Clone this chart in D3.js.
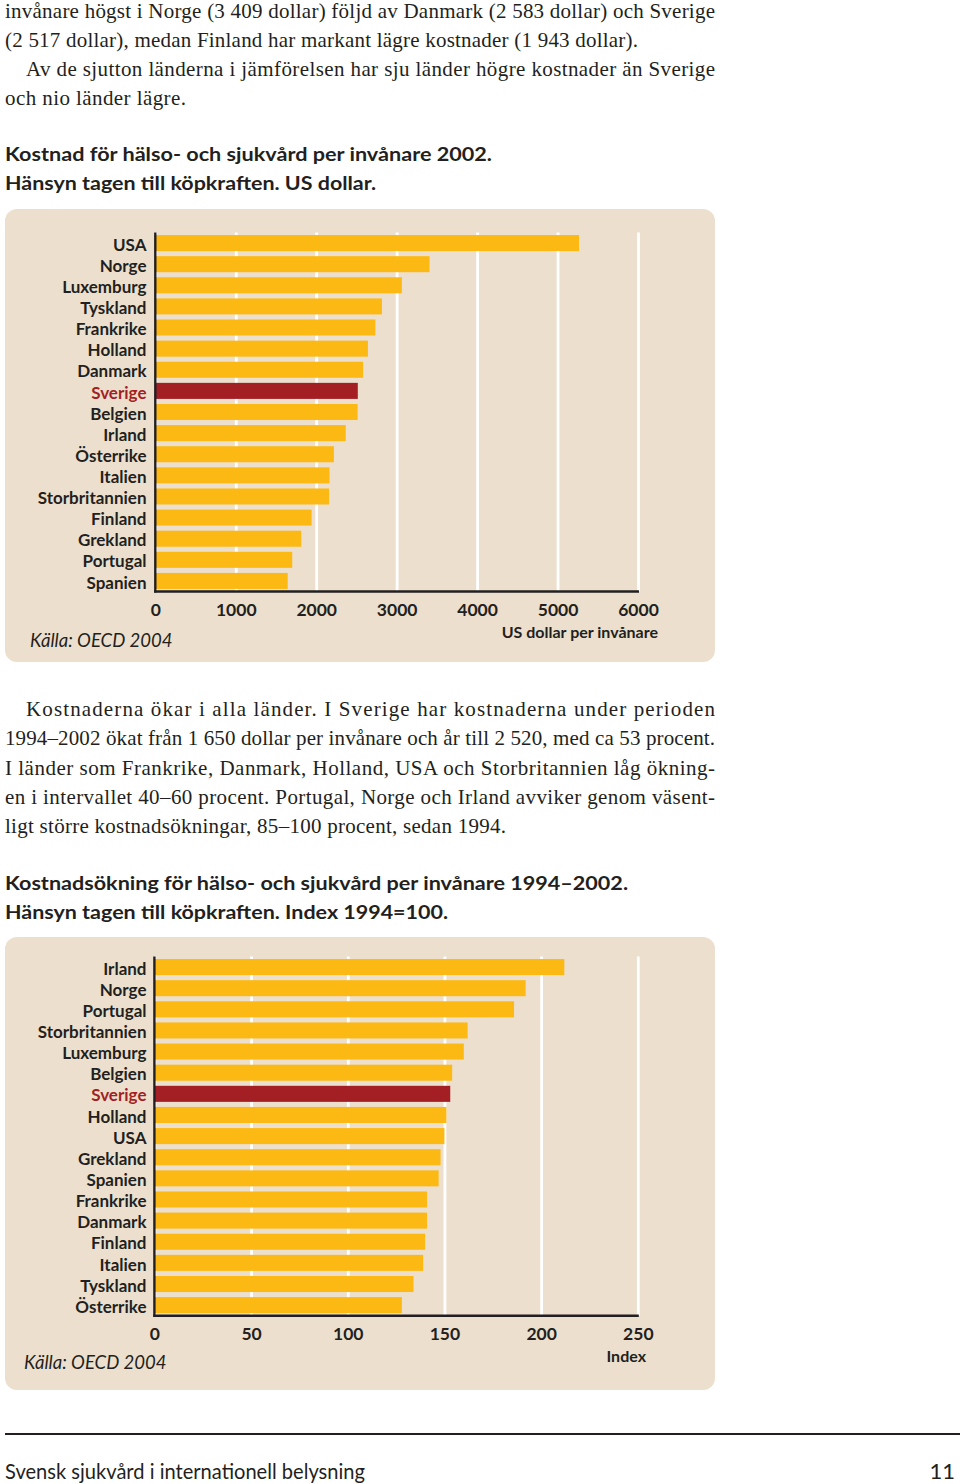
<!DOCTYPE html>
<html><head><meta charset="utf-8">
<script src="https://cdn.jsdelivr.net/npm/d3@7"></script>
<style>body{margin:0;background:#fff}svg{display:block}</style>
</head><body>
<script>
// ---- data ----
const countries1 = ["USA","Norge","Luxemburg","Tyskland","Frankrike","Holland","Danmark","Sverige","Belgien","Irland","Österrike","Italien","Storbritannien","Finland","Grekland","Portugal","Spanien"];
const values1 = [5267,3409,3065,2817,2736,2643,2583,2517,2515,2367,2220,2166,2160,1943,1814,1702,1646];
const ticks1 = [0,1000,2000,3000,4000,5000,6000];

const countries2 = ["Irland","Norge","Portugal","Storbritannien","Luxemburg","Belgien","Sverige","Holland","USA","Grekland","Spanien","Frankrike","Danmark","Finland","Italien","Tyskland","Österrike"];
const values2 = [212,192,186,162,160,154,153,151,150,148,147,141,141,140,139,134,128];
const ticks2 = [0,50,100,150,200,250];

const highlight = "Sverige";

// ---- styles ----
const INK = "#231f20", BOX = "#ecdfce", BAR = "#fdb913", RED = "#a31f24";
const SERIF = "'Liberation Serif','DejaVu Serif',serif";
const SANS = "Lato,'Open Sans','Noto Sans',sans-serif";

const svg = d3.select("body").append("svg").attr("width",960).attr("height",1484);

function txt(str, x, y, o = {}) {
  const t = svg.append("text").attr("x", x).attr("y", y).text(str)
    .attr("fill", o.fill || INK)
    .attr("font-family", o.family || SERIF)
    .attr("font-size", o.size || 21)
    .attr("font-weight", o.weight || "normal")
    .attr("font-style", o.style || "normal")
    .attr("text-anchor", o.anchor || "start");
  if (o.len) t.attr("textLength", o.len).attr("lengthAdjust", o.adj || "spacing");
  return t;
}

// ---- body text, paragraph 1 ----
const R = 715;
txt("invånare högst i Norge (3 409 dollar) följd av Danmark (2 583 dollar) och Sverige", 5, 17.5, {len: R-5});
txt("(2 517 dollar), medan Finland har markant lägre kostnader (1 943 dollar).", 5, 46.5, {len: 633});
txt("Av de sjutton länderna i jämförelsen har sju länder högre kostnader än Sverige", 26, 75.8, {len: R-26});
txt("och nio länder lägre.", 5, 105, {len: 181});

const HS = {family: SANS, weight: "bold", size: 19, adj: "spacingAndGlyphs"};
txt("Kostnad för hälso- och sjukvård per invånare 2002.", 5, 161, {...HS, len: 487});
txt("Hänsyn tagen till köpkraften. US dollar.", 5, 190, {...HS, len: 371});

// ---- paragraph 2 ----
txt("Kostnaderna ökar i alla länder. I Sverige har kostnaderna under perioden", 26, 716, {len: R-26});
txt("1994–2002 ökat från 1 650 dollar per invånare och år till 2 520, med ca 53 procent.", 5, 745.3, {len: R-5});
txt("I länder som Frankrike, Danmark, Holland, USA och Storbritannien låg ökning-", 5, 774.6, {len: R-5});
txt("en i intervallet 40–60 procent. Portugal, Norge och Irland avviker genom väsent-", 5, 803.9, {len: R-5});
txt("ligt större kostnadsökningar, 85–100 procent, sedan 1994.", 5, 833.2, {len: 501});

txt("Kostnadsökning för hälso- och sjukvård per invånare 1994–2002.", 5, 889.5, {...HS, len: 623});
txt("Hänsyn tagen till köpkraften. Index 1994=100.", 5, 918.5, {...HS, len: 443});

// ---- charts ----
function chart(cfg) {
  const g = svg.append("g");
  g.append("rect").attr("x", 5).attr("y", cfg.boxY).attr("width", 710).attr("height", cfg.boxH)
    .attr("rx", 12).attr("fill", BOX);

  const x = d3.scaleLinear().domain([0, cfg.ticks[cfg.ticks.length-1]]).range(cfg.xRange);
  const y = d3.scaleBand().domain(cfg.cats).range([cfg.top, cfg.base]).paddingInner(0.24).paddingOuter(0.12);

  // gridlines + tick labels
  const ax = g.append("g").attr("transform", `translate(0,${cfg.base})`)
    .call(d3.axisBottom(x).tickValues(cfg.ticks).tickSize(-(cfg.base - cfg.top)).tickPadding(0).tickFormat(d3.format("d")));
  ax.select(".domain").remove();
  ax.selectAll(".tick line").attr("stroke", "#fff").attr("stroke-width", 2.8);
  ax.selectAll(".tick text").attr("fill", INK).attr("font-family", SANS).attr("font-weight", "bold")
    .attr("font-size", 17.5).attr("dy", null).attr("y", 24.5);

  // bars
  g.append("g").selectAll("rect").data(cfg.cats).join("rect")
    .attr("x", x(0)).attr("y", d => y(d)).attr("height", y.bandwidth())
    .attr("width", (d, i) => x(cfg.vals[i]) - x(0))
    .attr("fill", d => d === highlight ? RED : BAR);

  // axis lines
  g.append("line").attr("x1", x(0)).attr("x2", x(0)).attr("y1", cfg.top).attr("y2", cfg.base + 1)
    .attr("stroke", INK).attr("stroke-width", 2.4);
  g.append("line").attr("x1", x(0) - 1.2).attr("x2", cfg.xRange[1] + 1).attr("y1", cfg.base).attr("y2", cfg.base)
    .attr("stroke", INK).attr("stroke-width", 2.6);

  // category labels
  g.append("g").selectAll("text").data(cfg.cats).join("text")
    .attr("x", 146.5).attr("y", d => y(d) + y.bandwidth()/2).attr("dy", "0.45em")
    .attr("text-anchor", "end").attr("font-family", SANS).attr("font-weight", "bold").attr("font-size", 17)
    .attr("fill", d => d === highlight ? RED : INK).text(d => d);

  // unit + source
  g.append("text").attr("x", cfg.unitX).attr("y", cfg.unitY).attr("text-anchor", "end")
    .attr("font-family", SANS).attr("font-weight", "bold").attr("font-size", 16).attr("fill", INK).text(cfg.unit);
  g.append("text").attr("x", cfg.srcX).attr("y", cfg.srcY)
    .attr("font-family", SANS).attr("font-style", "italic").attr("font-weight", "normal").attr("font-size", 18.5)
    .attr("fill", INK).text("Källa: OECD 2004");
}

chart({cats: countries1, vals: values1, ticks: ticks1, boxY: 209, boxH: 453,
  top: 232.5, base: 591.5, xRange: [155.3, 638],
  unit: "US dollar per invånare", unitX: 658, unitY: 637.5, srcX: 30, srcY: 646.5});

chart({cats: countries2, vals: values2, ticks: ticks2, boxY: 937, boxH: 453,
  top: 956.5, base: 1315.7, xRange: [154.4, 637.8],
  unit: "Index", unitX: 646, unitY: 1362, srcX: 24, srcY: 1368.5});

// ---- footer ----
svg.append("line").attr("x1", 5).attr("x2", 960).attr("y1", 1434).attr("y2", 1434)
  .attr("stroke", INK).attr("stroke-width", 2);
txt("Svensk sjukvård i internationell belysning", 5, 1479, {family: SANS, weight: "normal", size: 21, len: 360, adj: "spacingAndGlyphs"});
txt("11", 955, 1479, {family: SANS, weight: "normal", size: 22, anchor: "end"});
</script>
</body></html>
